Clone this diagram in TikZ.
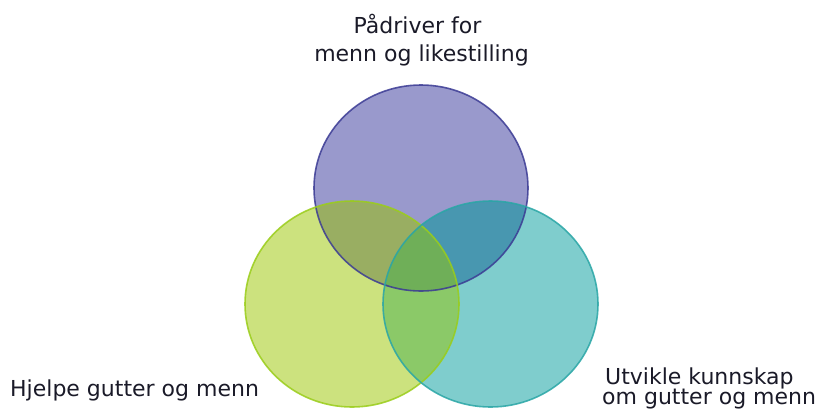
\documentclass[tikz,border=0pt]{standalone}
\usepackage{fontspec}
\setmainfont{DejaVu Sans}
\definecolor{pfill}{RGB}{153,153,204}
\definecolor{gfill}{RGB}{204,226,126}
\definecolor{tfill}{RGB}{127,205,205}
\definecolor{pgfill}{RGB}{153,174,98}
\definecolor{ptfill}{RGB}{72,151,176}
\definecolor{gtfill}{RGB}{139,201,104}
\definecolor{pgtfill}{RGB}{111,175,88}
\definecolor{pedge}{RGB}{59,59,148}
\definecolor{gedge}{RGB}{154,205,26}
\definecolor{tedge}{RGB}{42,166,166}
\definecolor{txt}{RGB}{26,26,40}
\begin{document}
\begin{tikzpicture}[x=1pt,y=-1pt,
  lbl/.style={inner sep=0pt, font=\fontsize{22}{28}\selectfont, text=txt},
  ring/.style={line width=1.6pt, draw opacity=0.85}]
\useasboundingbox (0,0) rectangle (817,416);
\def\cP{(421,188) ellipse [x radius=107, y radius=103]}
\def\cG{(352,304) ellipse [x radius=107, y radius=103]}
\def\cT{(490.5,304) ellipse [x radius=107.5, y radius=103]}
% single regions
\fill[pfill] \cP;
\fill[gfill] \cG;
\fill[tfill] \cT;
% green & teal
\begin{scope}
  \clip \cG;
  \fill[gtfill] \cT;
\end{scope}
% purple overlaps
\begin{scope}
  \clip \cP;
  \fill[pgfill] \cG;
  \fill[ptfill] \cT;
  \clip \cG;
  \fill[pgtfill] \cT;
\end{scope}
% outlines
\draw[ring, pedge] \cP;
\draw[ring, gedge] \cG;
\draw[ring, tedge] \cT;
% labels
\node[lbl, anchor=base] (l1a) at (417.5,33) {Pådriver for};
\node[lbl, anchor=base] (l1b) at (421.5,61) {menn og likestilling};
\node[lbl, anchor=base west] (l2) at (10,396) {Hjelpe gutter og menn};
\node[lbl, anchor=base west] (l3a) at (605,384) {Utvikle kunnskap};
\node[lbl, anchor=base west] (l3b) at (602,404) {om gutter og menn};
\end{tikzpicture}
\end{document}
